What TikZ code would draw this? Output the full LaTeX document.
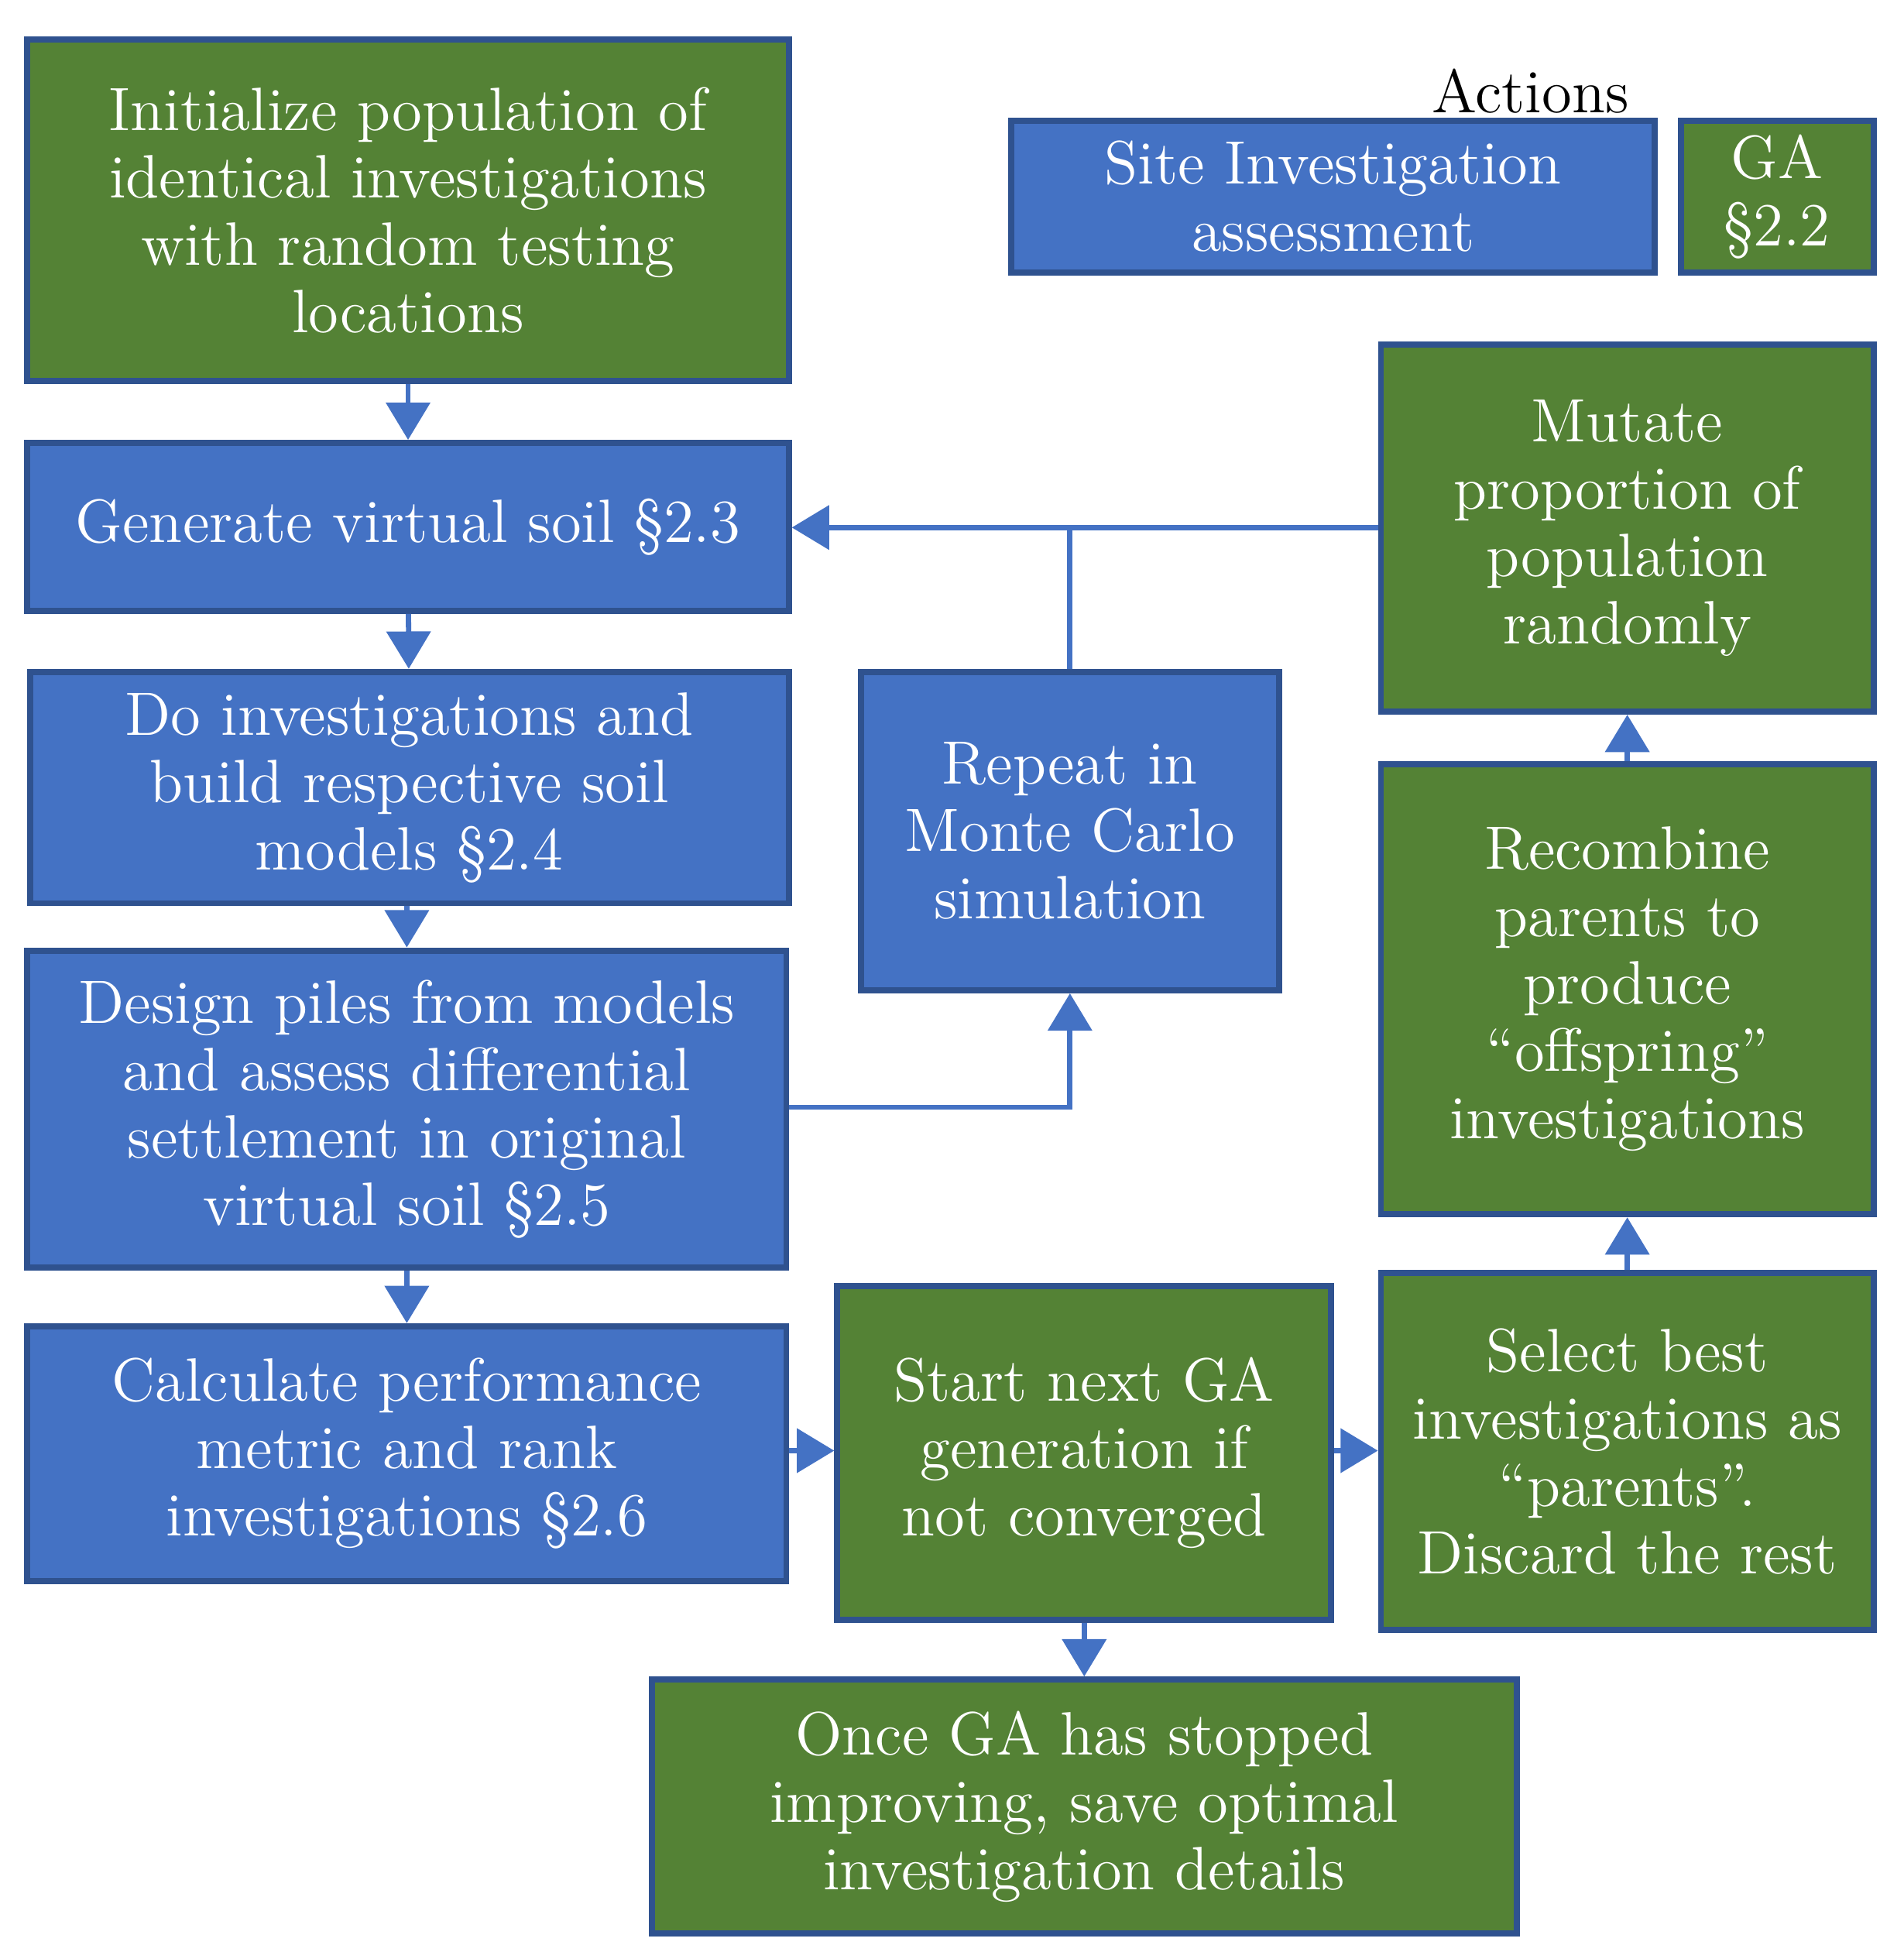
\documentclass[tikz,border=0pt]{standalone}
\usepackage{tikz}
\usetikzlibrary{arrows.meta}
\definecolor{siblue}{HTML}{4472C4}
\definecolor{gagreen}{HTML}{548235}
\definecolor{edge}{HTML}{2F528F}
\newcommand{\boxat}[6]{% name, colour, x1, y1, x2, y2
	\node [box, fill=#2, minimum width={(#5-#3)*0.01cm}, minimum height={(#6-#4)*0.01cm}] (#1) at ({(#3+#5)/2},{(#4+#6)/2})}

\begin{document}
\begin{tikzpicture}[
      x=0.01cm, y=-0.01cm,
      box/.style={draw=edge, line width=1.4pt, align=center, text=white, inner sep=0pt,
                  font=\fontsize{14}{15.4}\selectfont},
      flow/.style={siblue, line width=1.2pt, -{Triangle[length=0.3cm,width=0.35cm]}},
      link/.style={siblue, line width=1.2pt}
    ]
    \useasboundingbox (0,0) rectangle (1530,1569);
    % Legend
    \node [font=\fontsize{14}{15.4}\selectfont] (actions) at (1230,73) {Actions};
    \boxat{legsi}{siblue}{813}{97}{1330}{219} {Site Investigation\\assessment};
    \boxat{legga}{gagreen}{1351}{97}{1506}{219} {GA\\\S2.2};
    % Left column: site investigation steps
    \boxat{init}{gagreen}{22}{32}{634}{306} {Initialize population of\\identical investigations\\with random testing\\locations};
    \boxat{gen}{siblue}{22}{356}{634}{491} {Generate virtual soil \S2.3};
    \boxat{doinv}{siblue}{24}{540}{634}{726} {Do investigations and\\build respective soil\\models \S2.4};
    \boxat{design}{siblue}{22}{764}{632}{1019} {Design piles from models\\and assess differential\\settlement in original\\virtual soil \S2.5};
    \boxat{calc}{siblue}{22}{1066}{632}{1271} {Calculate performance\\metric and rank\\investigations \S2.6};
    % Middle
    \boxat{repeat}{siblue}{692}{540}{1028}{796} {Repeat in\\Monte Carlo\\simulation};
    \boxat{start}{gagreen}{673}{1034}{1070}{1302} {Start next GA\\generation if\\not converged};
    \boxat{once}{gagreen}{524}{1350}{1219}{1554} {Once GA has stopped\\improving, save optimal\\investigation details};
    % Right column: GA steps
    \boxat{mutate}{gagreen}{1110}{277}{1506}{572} {Mutate\\proportion of\\population\\randomly};
    \boxat{recomb}{gagreen}{1110}{614}{1506}{976} {Recombine\\parents to\\produce\\``offspring''\\investigations};
    \boxat{select}{gagreen}{1110}{1023}{1506}{1310} {Select best\\investigations as\\``parents''.\\Discard the rest};
    % Connectors
    \draw [flow] (init) -- (gen);
    \draw [flow] (gen) -- (doinv);
    \draw [flow] (doinv.south -| design.north) -- (design);
    \draw [flow] (design) -- (calc);
    \draw [flow] (design.east |- 0,890) -| (repeat.south);
    \draw [flow] (mutate.west |- 0,424) -- (gen.east |- 0,424);
    \draw [link] (repeat.north) -- (repeat.north |- 0,424);
    \draw [flow] (calc.east |- 0,1166) -- (start.west |- 0,1166);
    \draw [flow] (start.east |- 0,1166) -- (select.west |- 0,1166);
    \draw [flow] (start.south -| once.north) -- (once.north);
    \draw [flow] (select) -- (recomb);
    \draw [flow] (recomb) -- (mutate);
\end{tikzpicture}
\end{document}
